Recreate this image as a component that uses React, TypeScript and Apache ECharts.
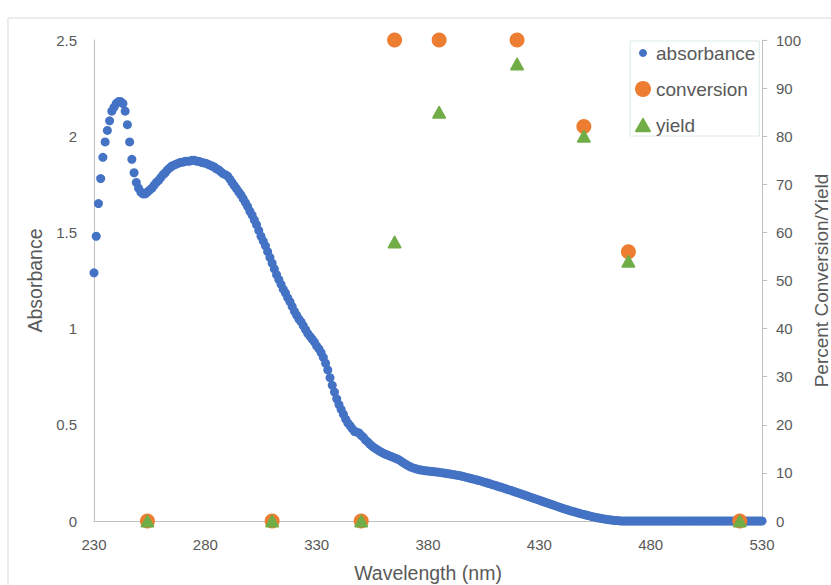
import React, { useEffect, useRef } from "react";
import * as echarts from "echarts";

// Absorbance spectrum, one value per nm starting at ABS_START
const ABS_START = 230;
const ABS_STEP = 1;
const absorbance: number[] = [
  // 230-239
  1.29, 1.48, 1.65, 1.78, 1.89, 1.97, 2.03, 2.08, 2.13, 2.15,
  // 240-249
  2.17, 2.18, 2.18, 2.17, 2.13, 2.06, 1.97, 1.88, 1.81, 1.76,
  // 250-259
  1.73, 1.71, 1.7, 1.7, 1.71, 1.72, 1.73, 1.745, 1.76, 1.77,
  // 260-269
  1.785, 1.8, 1.81, 1.825, 1.835, 1.845, 1.85, 1.855, 1.86, 1.865,
  // 270-279
  1.865, 1.87, 1.87, 1.87, 1.875, 1.875, 1.87, 1.87, 1.865, 1.862,
  // 280-289
  1.86, 1.855, 1.85, 1.845, 1.84, 1.83, 1.825, 1.815, 1.805, 1.8,
  // 290-299
  1.793, 1.777, 1.76, 1.743, 1.727, 1.71, 1.695, 1.675, 1.655, 1.635,
  // 300-309
  1.61, 1.59, 1.565, 1.54, 1.51, 1.48, 1.455, 1.43, 1.4, 1.37,
  // 310-319
  1.34, 1.31, 1.28, 1.255, 1.23, 1.205, 1.185, 1.16, 1.14, 1.115,
  // 320-329
  1.09, 1.07, 1.05, 1.035, 1.015, 0.995, 0.975, 0.96, 0.945, 0.93,
  // 330-339
  0.91, 0.895, 0.875, 0.85, 0.82, 0.785, 0.745, 0.705, 0.67, 0.635,
  // 340-349
  0.605, 0.58, 0.555, 0.53, 0.51, 0.495, 0.48, 0.465, 0.462, 0.458,
  // 350-359
  0.445, 0.435, 0.42, 0.41, 0.398, 0.388, 0.38, 0.372, 0.365, 0.358,
  // 360-369
  0.352, 0.347, 0.342, 0.337, 0.333, 0.328, 0.323, 0.318, 0.31, 0.302,
  // 370-379
  0.295, 0.288, 0.282, 0.277, 0.273, 0.27, 0.267, 0.265, 0.263, 0.261,
  // 380-389
  0.26, 0.258, 0.257, 0.256, 0.255, 0.253, 0.251, 0.25, 0.248, 0.246,
  // 390-399
  0.244, 0.242, 0.24, 0.238, 0.236, 0.234, 0.231, 0.228, 0.225, 0.222,
  // 400-409
  0.219, 0.216, 0.213, 0.21, 0.207, 0.203, 0.2, 0.196, 0.193, 0.189,
  // 410-419
  0.186, 0.182, 0.178, 0.175, 0.171, 0.167, 0.163, 0.16, 0.156, 0.152,
  // 420-429
  0.148, 0.144, 0.14, 0.136, 0.132, 0.128, 0.124, 0.12, 0.116, 0.112,
  // 430-439
  0.108, 0.104, 0.1, 0.096, 0.092, 0.088, 0.084, 0.08, 0.076, 0.072,
  // 440-449
  0.068, 0.064, 0.06, 0.057, 0.053, 0.05, 0.047, 0.043, 0.04, 0.037,
  // 450-459
  0.034, 0.031, 0.028, 0.025, 0.022, 0.02, 0.017, 0.015, 0.013, 0.011,
  // 460-469
  0.009, 0.007, 0.006, 0.004, 0.003, 0.002, 0.001, 0, 0, 0,
  // 470-479
  0, 0, 0, 0, 0, 0, 0, 0, 0, 0,
  // 480-489
  0, 0, 0, 0, 0, 0, 0, 0, 0, 0,
  // 490-499
  0, 0, 0, 0, 0, 0, 0, 0, 0, 0,
  // 500-509
  0, 0, 0, 0, 0, 0, 0, 0, 0, 0,
  // 510-519
  0, 0, 0, 0, 0, 0, 0, 0, 0, 0,
  // 520-529
  0, 0, 0, 0, 0, 0, 0, 0, 0, 0,
  // 530
  0,
];

// Reaction wavelengths (nm) with conversion and yield (%)
const reactionWavelengths: number[] = [254, 310, 350, 365, 385, 420, 450, 470, 520];
const conversion: number[] = [0, 0, 0, 100, 100, 100, 82, 56, 0];
const yieldPct: number[] = [0, 0, 0, 58, 85, 95, 80, 54, 0];

const xTicks = { min: 230, max: 530, interval: 50 };
const leftTicks = { min: 0, max: 2.5, interval: 0.5 };
const rightTicks = { min: 0, max: 100, interval: 10 };

const BLUE = "#4472C4";
const ORANGE = "#ED7D31";
const GREEN = "#70AD47";
const TEXT = "#595959";
const AXIS = "#BFBFBF";
const FONT = "'Liberation Sans', Arial, sans-serif";

const TRIANGLE =
  "path://M44,7 Q50,-3 56,7 L97,79 Q102,89 91,89 L9,89 Q-2,89 3,79 Z";
const SMALL_DOT =
  "path://M0,0 M16,16 M8,4 A4,4 0 1 1 7.99,4 Z";

export default function App() {
  const ref = useRef<HTMLDivElement>(null);

  useEffect(() => {
    if (!ref.current) return;
    const chart = echarts.init(ref.current, undefined, { renderer: "svg" });

    const absData = absorbance.map((v, i) => [ABS_START + i * ABS_STEP, v]);
    const convData = reactionWavelengths.map((w, i) => [w, conversion[i]]);
    const yieldData = reactionWavelengths.map((w, i) => [w, yieldPct[i]]);

    chart.setOption({
      animation: false,
      backgroundColor: "#ffffff",
      textStyle: { fontFamily: FONT },
      graphic: [
        {
          type: "rect",
          shape: { x: 8, y: 18, width: 840, height: 600 },
          style: { fill: "none", stroke: "#D9D9D9", lineWidth: 1 },
          silent: true,
          z: -10,
        },
      ],
      grid: {
        left: 94,
        right: 69,
        top: 40,
        bottom: 64,
        containLabel: false,
        outerBoundsMode: "none",
      },
      legend: {
        orient: "vertical",
        left: 630,
        top: 41,
        padding: [2, 4, 1, 5],
        itemGap: 16,
        itemWidth: 16,
        itemHeight: 16,
        borderColor: "#DDE8E8",
        borderWidth: 1,
        backgroundColor: "#ffffff",
        textStyle: { fontSize: 19, color: TEXT, fontFamily: FONT, lineHeight: 20 },
        data: [
          { name: "absorbance", icon: SMALL_DOT },
          { name: "conversion", icon: "circle" },
          { name: "yield", icon: TRIANGLE },
        ],
      },
      xAxis: {
        type: "value",
        min: xTicks.min,
        max: xTicks.max,
        interval: xTicks.interval,
        name: "Wavelength (nm)",
        nameLocation: "middle",
        nameGap: 42,
        nameTextStyle: { fontSize: 19.5, color: TEXT, fontFamily: FONT },
        axisLine: { show: true, lineStyle: { color: AXIS, width: 1 } },
        axisTick: { show: false },
        splitLine: { show: false },
        axisLabel: { fontSize: 15, color: TEXT, margin: 16, fontFamily: FONT },
      },
      yAxis: [
        {
          type: "value",
          min: leftTicks.min,
          max: leftTicks.max,
          interval: leftTicks.interval,
          name: "Absorbance",
          nameLocation: "middle",
          nameGap: 43,
          nameTextStyle: { fontSize: 19.5, color: TEXT, fontFamily: FONT },
          axisLine: { show: true, lineStyle: { color: AXIS, width: 1 } },
          axisTick: { show: false },
          splitLine: { show: false },
          axisLabel: { fontSize: 15, color: TEXT, margin: 17, fontFamily: FONT },
        },
        {
          type: "value",
          position: "right",
          min: rightTicks.min,
          max: rightTicks.max,
          interval: rightTicks.interval,
          name: "Percent Conversion/Yield",
          nameLocation: "middle",
          nameGap: 39,
          nameTextStyle: { fontSize: 19, color: TEXT, fontFamily: FONT },
          axisLine: { show: true, lineStyle: { color: AXIS, width: 1 } },
          axisTick: { show: true, inside: false, length: 5, lineStyle: { color: AXIS } },
          splitLine: { show: false },
          axisLabel: { fontSize: 15, color: TEXT, margin: 14, fontFamily: FONT },
        },
      ],
      series: [
        {
          name: "absorbance",
          type: "scatter",
          yAxisIndex: 0,
          data: absData,
          symbol: "circle",
          symbolSize: 9,
          itemStyle: { color: BLUE, opacity: 1 },
          z: 2,
        },
        {
          name: "conversion",
          type: "scatter",
          yAxisIndex: 1,
          data: convData,
          symbol: "circle",
          symbolSize: 15,
          itemStyle: { color: ORANGE, opacity: 1 },
          z: 3,
        },
        {
          name: "yield",
          type: "scatter",
          yAxisIndex: 1,
          data: yieldData,
          symbol: TRIANGLE,
          symbolSize: [14, 13],
          itemStyle: { color: GREEN, opacity: 1 },
          z: 4,
        },
      ],
    });

    return () => chart.dispose();
  }, []);

  return (
    <div
      ref={ref}
      style={{ position: "fixed", left: 0, top: 0, width: 831, height: 585 }}
    />
  );
}
